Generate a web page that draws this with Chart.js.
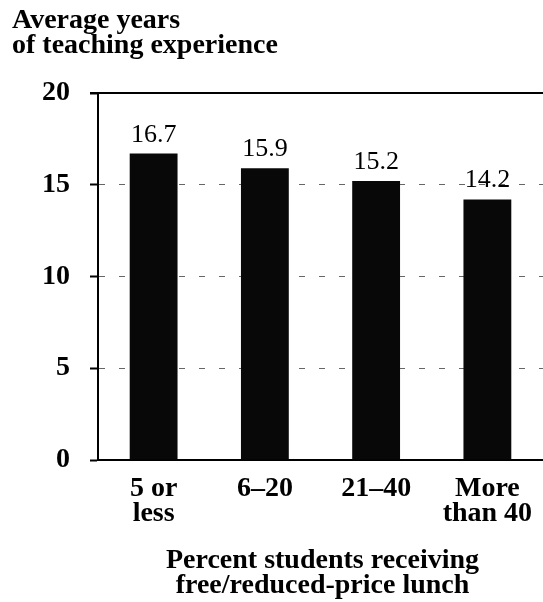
<!DOCTYPE html>
<html>
<head>
<meta charset="utf-8">
<script src="https://cdn.jsdelivr.net/npm/chart.js@4"></script>
<style>
  html, body { margin: 0; padding: 0; background: #fff; }
  #wrap { width: 543px; height: 602px; }
</style>
</head>
<body>
<div id="wrap"><canvas id="c" width="543" height="602"></canvas></div>
<script>
const categories = [["5 or", "less"], "6\u201320", "21\u201340", ["More", "than 40"]];
const years = [16.7, 15.9, 15.2, 14.2];
const valueLabels = ["16.7", "15.9", "15.2", "14.2"];
const yTicks = [0, 5, 10, 15, 20];
const titleLines = ["Average years", "of teaching experience"];
const xTitleLines = ["Percent students receiving", "free/reduced-price lunch"];

const SERIF = '"Liberation Serif", "DejaVu Serif", serif';

const overlay = {
  id: 'overlay',
  afterDatasetsDraw(chart) {
    const ctx = chart.ctx;
    const y = chart.scales.y;
    const area = chart.chartArea;
    ctx.save();
    // top frame line at max value
    ctx.strokeStyle = '#000';
    ctx.lineWidth = 2;
    ctx.beginPath();
    const ty = y.getPixelForValue(20);
    ctx.moveTo(area.left - 8, ty);
    ctx.lineTo(chart.width, ty);
    ctx.stroke();
    // value labels above bars
    const meta = chart.getDatasetMeta(0);
    ctx.fillStyle = '#000';
    ctx.font = '26px ' + SERIF;
    ctx.textAlign = 'center';
    ctx.textBaseline = 'alphabetic';
    meta.data.forEach((bar, i) => {
      ctx.fillText(valueLabels[i], bar.x, bar.y - 12);
    });
    // x axis title
    const cx = (area.left + area.right) / 2 + 2;
    ctx.font = 'bold 28px ' + SERIF;
    ctx.fillText(xTitleLines[0], cx, area.bottom + 108);
    ctx.fillText(xTitleLines[1], cx, area.bottom + 133);
    ctx.restore();
  }
};

new Chart(document.getElementById('c'), {
  type: 'bar',
  data: {
    labels: categories,
    datasets: [{
      data: years,
      backgroundColor: '#080808',
      borderWidth: 0,
      categoryPercentage: 1,
      barPercentage: 0.43
    }]
  },
  plugins: [overlay],
  options: {
    responsive: false,
    animation: false,
    layout: { padding: { left: 12, right: 0, top: 0, bottom: 0 } },
    plugins: {
      legend: { display: false },
      tooltip: { enabled: false },
      title: {
        display: true,
        text: titleLines,
        align: 'start',
        color: '#000',
        font: { family: SERIF, size: 28, weight: 'bold', lineHeight: 0.9 },
        padding: { top: 8, bottom: 34.6 }
      }
    },
    scales: {
      x: {
        afterFit(s) { s.height = 142; s.paddingRight = 0; s.paddingLeft = 0; },
        grid: { display: false, drawTicks: false },
        border: { display: true, color: '#000', width: 2 },
        ticks: {
          color: '#000',
          padding: 16,
          maxRotation: 0,
          font: { family: SERIF, size: 28, weight: 'bold', lineHeight: 0.9 }
        }
      },
      y: {
        min: 0,
        max: 20,
        afterFit(s) { s.width = 86; },
        afterBuildTicks(s) { s.ticks = yTicks.map(v => ({ value: v })); },
        grid: {
          color: (c) => (c.tick && (c.tick.value === 0 || c.tick.value === 20)) ? 'rgba(0,0,0,0)' : '#666',
          lineWidth: 1,
          tickColor: '#000',
          tickWidth: 2,
          tickLength: 8,
          tickBorderDash: []
        },
        border: { display: true, color: '#000', width: 2, dash: [6, 14] },
        ticks: {
          color: '#000',
          padding: 20,
          font: { family: SERIF, size: 28, weight: 'bold' }
        }
      }
    }
  }
});
</script>
</body>
</html>
